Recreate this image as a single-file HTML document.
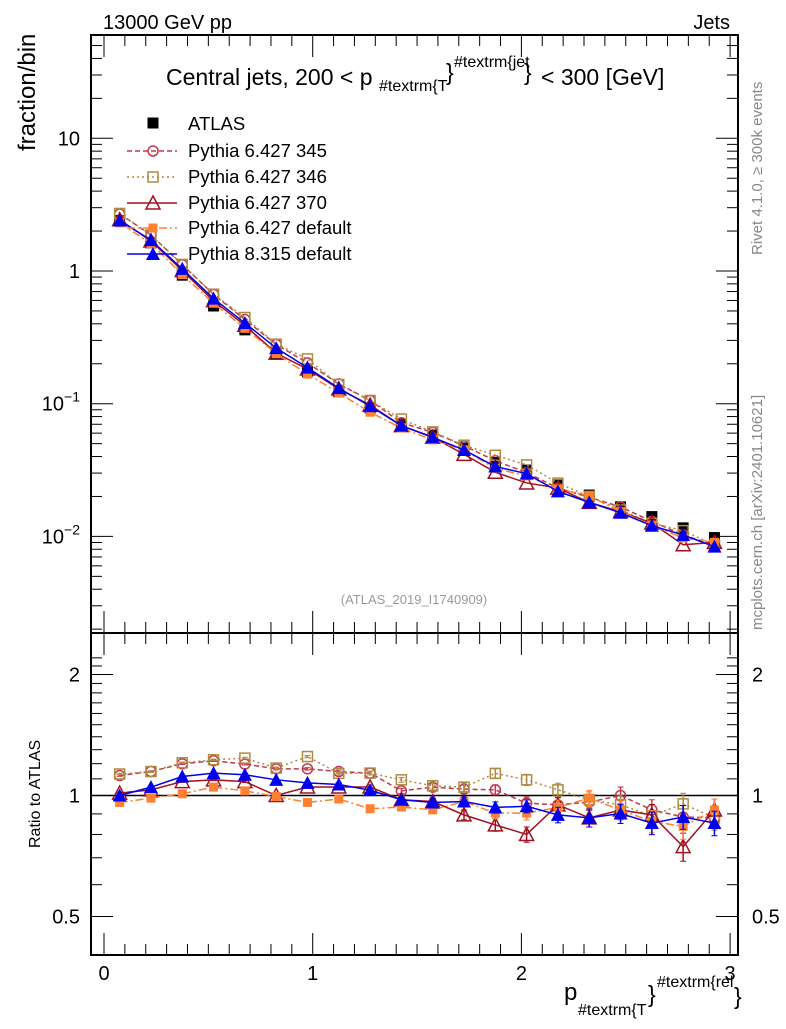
<!DOCTYPE html>
<html><head><meta charset="utf-8"><style>
body{margin:0;background:#fff}
svg text{font-family:"Liberation Sans",Arial,sans-serif}
</style></head><body>
<svg id="c" width="786" height="1024" xmlns="http://www.w3.org/2000/svg">
<rect width="786" height="1024" fill="#fff"/>
<g id="axes"></g>
<g id="marks"></g>
<text x="103" y="29" font-size="20">13000 GeV pp</text>
<text x="730" y="29" font-size="20" text-anchor="end">Jets</text>
<g>
<text x="166" y="85" font-size="23">Central jets, 200 &lt; p</text>
<text x="379" y="91" font-size="16">#textrm{T</text>
<text x="446" y="80" font-size="23">}</text>
<text x="454" y="67" font-size="16">#textrm{jet</text>
<text x="524" y="80" font-size="23">}</text>
<text x="541" y="85" font-size="23">&lt; 300 [GeV]</text>
</g>
<text transform="translate(35,151) rotate(-90)" font-size="24">fraction/bin</text>
<text transform="translate(40,848) rotate(-90)" font-size="16">Ratio to ATLAS</text>
<g>
<text x="564" y="1000" font-size="24">p</text>
<text x="578" y="1015" font-size="16">#textrm{T</text>
<text x="648" y="1002" font-size="23">}</text>
<text x="657" y="987" font-size="16">#textrm{rel</text>
<text x="734" y="1004" font-size="23">}</text>
</g>
<text x="414" y="604" font-size="13" fill="#999" text-anchor="middle">(ATLAS_2019_I1740909)</text>
<text transform="translate(762,255) rotate(-90)" font-size="15" fill="#888">Rivet 4.1.0, ≥ 300k events</text>
<text transform="translate(762,630) rotate(-90)" font-size="15" fill="#888">mcplots.cern.ch [arXiv:2401.10621]</text>
<g id="legend"></g>
</svg>
<script>
const binCenters=[0.075,0.225,0.375,0.525,0.675,0.825,0.975,1.125,1.275,1.425,1.575,1.725,1.875,2.025,2.175,2.325,2.475,2.625,2.775,2.925];
const atlasVals=[2.4,1.63,0.93,0.545,0.36,0.24,0.174,0.123,0.093,0.07,0.058,0.0464,0.036,0.0316,0.0244,0.0205,0.0167,0.0141,0.0116,0.0098];
const ratio345=[1.121,1.147,1.199,1.22,1.197,1.165,1.165,1.147,1.137,1.027,1.049,1.037,1.033,0.957,0.948,0.963,1.0,0.921,0.884,0.88];
const ratio346=[1.131,1.147,1.206,1.227,1.239,1.17,1.25,1.135,1.137,1.094,1.057,1.049,1.135,1.094,1.033,0.976,0.948,0.89,0.953,0.88];
const ratio370=[1.014,1.033,1.083,1.094,1.083,1.0,1.05,1.05,1.05,0.976,0.966,0.895,0.845,0.8,0.948,0.88,0.92,0.895,0.746,0.92];
const ratio6def=[0.961,0.985,1.01,1.049,1.027,0.994,0.961,0.98,0.927,0.936,0.921,0.966,0.904,0.904,0.934,0.985,0.92,0.862,0.838,0.92];
const ratioP8=[1.0,1.049,1.115,1.137,1.126,1.094,1.075,1.065,1.031,0.976,0.961,0.966,0.934,0.94,0.895,0.88,0.902,0.854,0.884,0.854];
const ratioErr=[0.005,0.005,0.005,0.005,0.006,0.007,0.008,0.01,0.012,0.015,0.02,0.025,0.03,0.035,0.04,0.045,0.05,0.055,0.06,0.06];
const xTickLabels=["0","1","2","3"];
const yTickLabels=["10^{-2}","10^{-1}","1","10"];

const NS="http://www.w3.org/2000/svg";
const X0=91,X1=738,MT=35,MB=633,RB=955;
const xs=v=>104+v*208.7;
const ym=v=>271-132.7*Math.log10(v);
const yr=v=>795.5-402*Math.log10(v);
const ax=document.getElementById('axes'),mk=document.getElementById('marks'),lg=document.getElementById('legend');
function el(t,a,p){const e=document.createElementNS(NS,t);for(const k in a)e.setAttribute(k,a[k]);(p||mk).appendChild(e);return e;}
function line(x1,y1,x2,y2,p,s,w){return el('line',{x1,y1,x2,y2,stroke:s||'#000','stroke-width':w||1},p);}
let f1=el('rect',{x:X0,y:MT,width:X1-X0,height:MB-MT,fill:'none',stroke:'#000','stroke-width':2},ax);


let f2=el('rect',{x:X0,y:MB,width:X1-X0,height:RB-MB,fill:'none',stroke:'#000','stroke-width':2},ax);


for(let i=0;i<=30;i++){const x=xs(i/10);if(x>X1)break;const L=i%10==0?22:11;
 line(x,MB,x,MB-L,ax);line(x,MT,x,MT+L,ax);line(x,RB,x,RB-L,ax);line(x,MB,x,MB+L,ax);}
xTickLabels.forEach((t,i)=>{const e=el('text',{x:xs(i),y:980,'font-size':20,'text-anchor':'middle'},ax);e.textContent=t;
 
 });
for(let d=-3;d<=1;d++){for(let m=1;m<10;m++){const v=m*Math.pow(10,d);const y=ym(v);if(y<MT||y>MB)continue;const L=m==1?22:11;
 line(X0,y,X0+L,y,ax);line(X1,y,X1-L,y,ax);}}
const yVals=[0.01,0.1,1,10];
yTickLabels.forEach((t,i)=>{const y=ym(yVals[i]);const e=el('text',{x:80,y:y+7,'font-size':20,'text-anchor':'end'},ax);
 const m=t.match(/\^\{(.*)\}/);
 if(m){e.textContent=t.split('^')[0];const s=el('tspan',{dy:-9,'font-size':14},e);s.textContent=m[1].replace('-','−');}else e.textContent=t;
 
 });
[0.5,0.6,0.7,0.8,0.9,1,2].forEach(v=>{const y=yr(v);const L=(v==0.5||v==1||v==2)?22:11;line(X0,y,X0+L,y,ax);line(X1,y,X1-L,y,ax);});
for(let v=1.1;v<2.3;v+=0.1){const y=yr(v);if(y>MB){line(X0,y,X0+11,y,ax);line(X1,y,X1-11,y,ax);}}
[["2",2],["1",1],["0.5",0.5]].forEach(([t,v])=>{const a=el('text',{x:80,y:yr(v)+7,'font-size':20,'text-anchor':'end'},ax);a.textContent=t;
 
 
 const b=el('text',{x:752,y:yr(v)+7,'font-size':20},ax);b.textContent=t;
 
 });
line(X0,yr(1),X1,yr(1),ax,'#000',1.5);

function marker(type,x,y,c,p){
 if(type=='sq')return el('rect',{x:x-5.5,y:y-5.5,width:11,height:11,fill:c},p);
 if(type=='osq')return el('rect',{x:x-5,y:y-5,width:10,height:10,fill:'none',stroke:c,'stroke-width':1.5},p);
 if(type=='oc')return el('circle',{cx:x,cy:y,r:5,fill:'none',stroke:c,'stroke-width':1.5},p);
 if(type=='otri')return el('polygon',{points:`${x},${y-7} ${x-7},${y+6} ${x+7},${y+6}`,fill:'none',stroke:c,'stroke-width':1.5},p);
 if(type=='fsq')return el('rect',{x:x-4.5,y:y-4.5,width:9,height:9,fill:c},p);
 if(type=='tri')return el('polygon',{points:`${x},${y-7} ${x-7},${y+6} ${x+7},${y+6}`,fill:c},p);
}
const series=[
 {name:'Pythia 6.427 345',r:ratio345,c:'#c0394f',dash:'5,3',m:'oc',id:'p6-345'},
 {name:'Pythia 6.427 346',r:ratio346,c:'#b08a40',dash:'2,3',m:'osq',id:'p6-346'},
 {name:'Pythia 6.427 370',r:ratio370,c:'#a01020',dash:'',m:'otri',id:'p6-370'},
 {name:'Pythia 6.427 default',r:ratio6def,c:'#ff8030',dash:'8,3,2,3',m:'fsq',id:'p6-default'},
 {name:'Pythia 8.315 default',r:ratioP8,c:'#0000ee',dash:'',m:'tri',id:'p8-default'}];
const ga=el('g',{});


binCenters.forEach((b,i)=>marker('sq',xs(b),ym(atlasVals[i]),'#000',ga));
series.forEach(s=>{
 const g=el('g',{});
 
 
 const pm=binCenters.map((b,i)=>xs(b)+','+ym(atlasVals[i]*s.r[i])).join(' ');
 el('polyline',{points:pm,fill:'none',stroke:s.c,'stroke-width':1.5,'stroke-dasharray':s.dash},g);
 const pr=binCenters.map((b,i)=>xs(b)+','+yr(s.r[i])).join(' ');
 el('polyline',{points:pr,fill:'none',stroke:s.c,'stroke-width':1.5,'stroke-dasharray':s.dash},g);
 binCenters.forEach((b,i)=>{const x=xs(b);
  marker(s.m,x,ym(atlasVals[i]*s.r[i]),s.c,g);
  const e=ratioErr[i];line(x,yr(s.r[i]+e),x,yr(s.r[i]-e),g,s.c,1.5);
  line(x-3,yr(s.r[i]+e),x+3,yr(s.r[i]+e),g,s.c,1);line(x-3,yr(s.r[i]-e),x+3,yr(s.r[i]-e),g,s.c,1);
  marker(s.m,x,yr(s.r[i]),s.c,g);});
});
const lgY=[124,151,177,203,228,254];
const la=el('g',{},lg);


marker('sq',153,lgY[0]-1,'#000',la);
const lt=el('text',{x:188,y:lgY[0]+6,'font-size':18.5},la);lt.textContent='ATLAS';
series.forEach((s,i)=>{const y=lgY[i+1];const g=el('g',{},lg);
 
 
 line(127,y,177,y,g,s.c,1.5).setAttribute('stroke-dasharray',s.dash);
 marker(s.m,153,y,s.c,g);
 const t=el('text',{x:188,y:y+6,'font-size':18.5},g);t.textContent=s.name;});
</script>
</body></html>
